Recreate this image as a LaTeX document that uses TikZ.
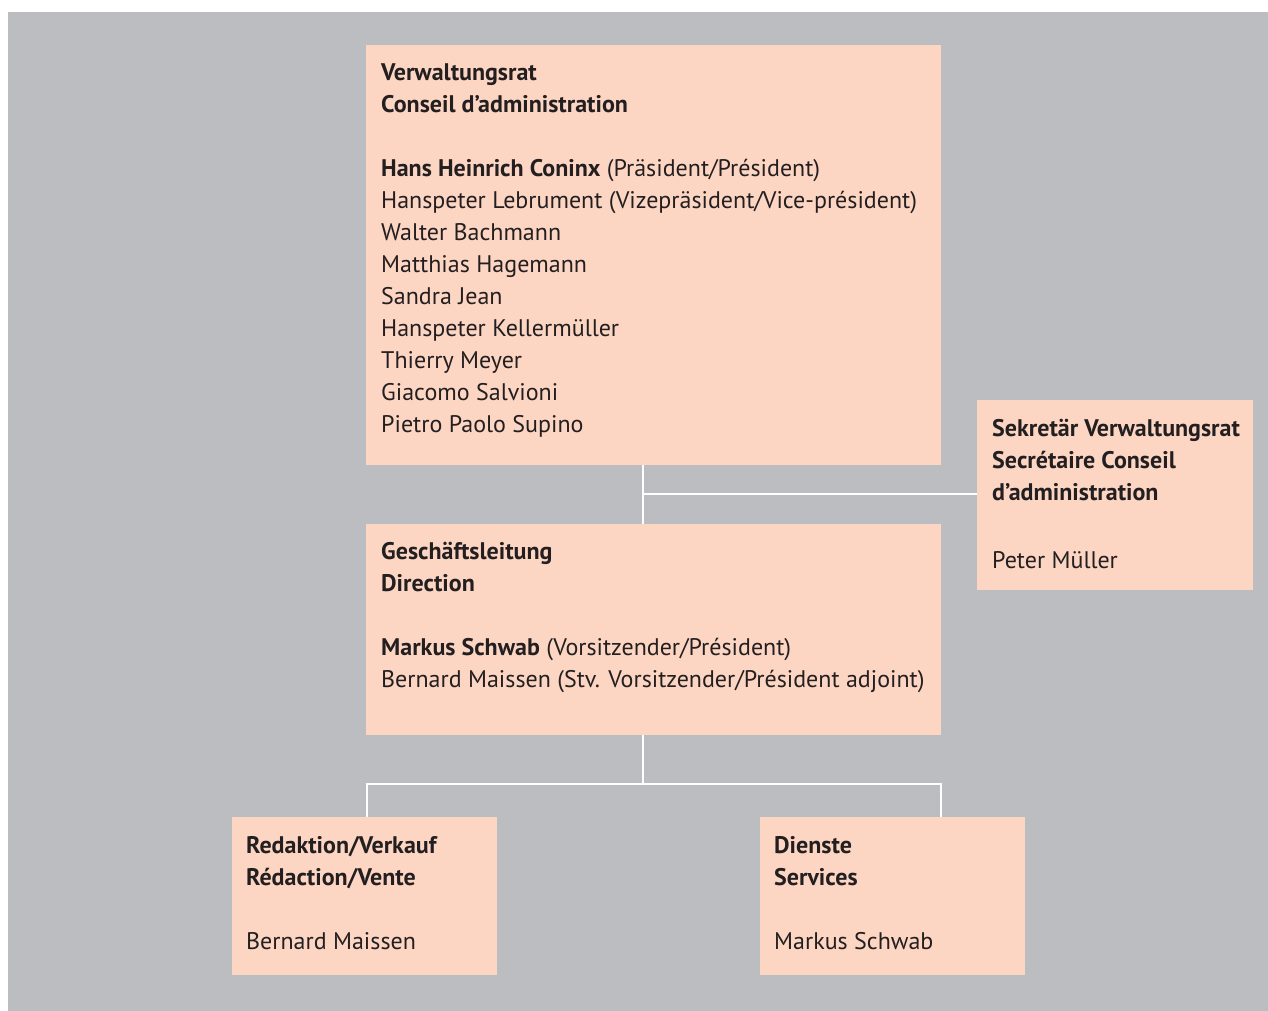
\documentclass[tikz,border=0pt]{standalone}
\usepackage{fontspec}
\setmainfont{PT Sans}
\usetikzlibrary{calc}

\definecolor{bggray}{HTML}{BCBDC0}
\definecolor{peach}{HTML}{FDD6C3}
\definecolor{ink}{HTML}{231F20}

\begin{document}
\begin{tikzpicture}[x=1pt,y=-1pt,
        orgbox/.style={draw=none,fill=peach,inner sep=0pt,anchor=north west},
        boxtext/.style={anchor=north west,inner sep=0pt,align=left,text=ink,
            font=\fontsize{24}{32}\selectfont},
        link/.style={draw=white,line width=2pt}]
        \useasboundingbox (0,0) rectangle (1268,1011);
        \fill[bggray] (8,12) rectangle (1268,1011);

        % boxes
        \node[orgbox,minimum width=575pt,minimum height=420pt] (vr) at (366,45) {};
        \node[orgbox,minimum width=276pt,minimum height=190pt] (sek) at (977,400) {};
        \node[orgbox,minimum width=575pt,minimum height=211pt] (gl) at (366,524) {};
        \node[orgbox,minimum width=265pt,minimum height=158pt] (red) at (232,817) {};
        \node[orgbox,minimum width=265pt,minimum height=158pt] (dien) at (760,817) {};

        % texts
        \node[boxtext] (vrtext) at ($(vr.north west)+(15,12.6)$) {\strut\textbf{Verwaltungsrat}\\
            \textbf{Conseil d’administration}\\[32pt]
            \textbf{Hans Heinrich Coninx} (Präsident/Président)\\
            Hanspeter Lebrument (Vizepräsident/Vice-président)\\
            Walter Bachmann\\
            Matthias Hagemann\\
            Sandra Jean\\
            Hanspeter Kellermüller\\
            Thierry Meyer\\
            Giacomo Salvioni\\
            Pietro Paolo Supino};
        \node[boxtext] (sektext) at ($(sek.north west)+(15,13.4)$) {\strut\textbf{Sekretär Verwaltungsrat}\\
            \textbf{Secrétaire Conseil}\\
            \textbf{d’administration}\\[36pt]
            Peter Müller};
        \node[boxtext] (gltext) at ($(gl.north west)+(15,12.6)$) {\strut\textbf{Geschäftsleitung}\\
            \textbf{Direction}\\[32pt]
            \textbf{Markus Schwab} (Vorsitzender/Président)\\
            Bernard Maissen (Stv. Vorsitzender/Président adjoint)};
        \node[boxtext] (redtext) at ($(red.north west)+(14,13.6)$) {\strut\textbf{Redaktion/Verkauf}\\
            \textbf{Rédaction/Vente}\\[32pt]
            Bernard Maissen};
        \node[boxtext] (dientext) at ($(dien.north west)+(14,13.6)$) {\strut\textbf{Dienste}\\
            \textbf{Services}\\[32pt]
            Markus Schwab};

        % connectors
        \coordinate (top) at (643,494);
        \coordinate (low) at (643,784);
        \draw[link] (top |- vr.south) -- (top |- gl.north);
        \draw[link] (top) -- (top -| sek.west);
        \draw[link] (low |- gl.south) -- (low);
        \draw[link] ([xshift=1pt]gl.south west |- red.north) -- ([xshift=1pt]gl.south west |- low)
            -- (gl.south east |- low) -- (gl.south east |- dien.north);

    \end{tikzpicture}
\end{document}
